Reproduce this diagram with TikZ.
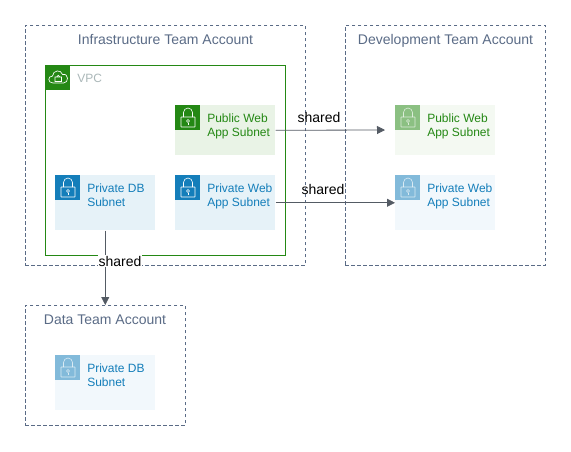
\documentclass[tikz,border=0pt]{standalone}
\usepackage{fontspec}
\setmainfont{Liberation Sans}
\usetikzlibrary{arrows.meta,calc,positioning}
\definecolor{slate}{HTML}{5A6B86}
\definecolor{line}{HTML}{545B64}
\definecolor{vpcgreen}{HTML}{248814}
\definecolor{pubpale}{HTML}{E9F3E6}
\definecolor{pubfaint}{HTML}{F4F9F2}
\definecolor{privblue}{HTML}{147EBA}
\definecolor{privpale}{HTML}{E6F2F8}
\definecolor{privfaint}{HTML}{F2F8FC}
\definecolor{vpcgrey}{HTML}{AAB7B8}
\tikzset{
  account/.style={draw=slate,dash pattern=on 2.5pt off 2pt,line width=0.5pt,minimum width=#1,anchor=north west,inner sep=0pt},
  accttitle/.style={text=slate,text height=8pt,text depth=2pt,font=\fontsize{10.5}{12}\selectfont},
  subnet/.style={anchor=north west,inner sep=0pt,minimum width=75pt},
  subtext/.style={anchor=north west,inner sep=0pt,align=left,font=\fontsize{9}{10.5}\selectfont},
  iconbox/.style={anchor=north west,inner sep=0pt,minimum size=18.75pt},
  sharelbl/.style={text=black,inner sep=0.5pt,font=\fontsize{10.5}{12}\selectfont},
  shareline/.style={draw=line,line width=0.6pt,-{Triangle[length=6pt,width=6pt]}},
  pics/lock/.style={code={
    \draw[white,line width=0.45pt,rounded corners=0.3pt] (-7,0) rectangle (7,10);
    \draw[white,line width=0.45pt] (-4.5,0) -- (-4.5,-4.5) arc[start angle=180,end angle=360,radius=4.5] -- (4.5,0);
    \draw[white,line width=0.45pt] (0,4) circle[radius=1.5];
    \draw[white,line width=0.45pt] (0,5.5) -- (0,8);
  }},
}
\begin{document}
\begin{tikzpicture}[x=0.75pt,y=-0.75pt,>=Stealth]
\useasboundingbox (0,0) rectangle (571,451);
% accounts
\node[account=210pt,minimum height=180pt] (infra) at (25,25) {};
\node[account=150pt,minimum height=180pt] (dev) at (345,25) {};
\node[account=120pt,minimum height=90pt] (data) at (25,305) {};
\node[accttitle] (infratitle) at (165.5,40) {Infrastructure Team Account};
\node[accttitle] (devtitle) at (445.5,40) {Development Team Account};
\node[accttitle] (datatitle) at (105,320) {Data Team Account};
% vpc
\node[draw=vpcgreen,line width=0.6pt,anchor=north west,inner sep=0pt,minimum width=180pt,minimum height=142.5pt] (vpc) at (45,65) {};
\node[iconbox,fill=vpcgreen] (vpcicon) at (45,65) {};
\draw[white,line width=0.5pt] (53,83) .. controls (47.5,83) and (47.5,76) .. (52.5,76) .. controls (53,70) and (61,69) .. (62.5,74.5) .. controls (69,73) and (69,83) .. (63.5,83) -- cycle;
\draw[white,line width=0.4pt] (55,77) rectangle (61.5,81.5) (56.5,77) arc[start angle=180,end angle=360,radius=1.75];
\node[anchor=west,inner sep=0pt,text=vpcgrey,font=\fontsize{9}{11}\selectfont] (vpclbl) at (77,78.5) {VPC};
% subnets in the vpc
\node[subnet,fill=pubpale,minimum height=37.5pt] (pubweb) at (175,105) {};
\node[iconbox,fill=vpcgreen] (pubwebicon) at (175,105) {};
\pic at (188,117) {lock};
\node[subtext,text=vpcgreen] (pubwebtxt) at (207,114) {Public Web\\App Subnet};
\node[subnet,fill=privpale,minimum height=41.25pt] (privweb) at (175,175) {};
\node[iconbox,fill=privblue] (privwebicon) at (175,175) {};
\pic at (188,187) {lock};
\node[subtext,text=privblue] (privwebtxt) at (207,184) {Private Web\\App Subnet};
\node[subnet,fill=privpale,minimum height=41.25pt] (privdb) at (55,175) {};
\node[iconbox,fill=privblue] (privdbicon) at (55,175) {};
\pic at (68,187) {lock};
\node[subtext,text=privblue] (privdbtxt) at (87,184) {Private DB\\Subnet};
% shared copies
\node[subnet,fill=pubfaint,minimum height=37.5pt] (devpub) at (395,105) {};
\node[iconbox,fill=vpcgreen,fill opacity=0.5] (devpubicon) at (395,105) {};
\pic[opacity=0.7] at (408,117) {lock};
\node[subtext,text=vpcgreen] (devpubtxt) at (427,114) {Public Web\\App Subnet};
\node[subnet,fill=privfaint,minimum height=41.25pt] (devpriv) at (395,175) {};
\node[iconbox,fill=privblue,fill opacity=0.5] (devprivicon) at (395,175) {};
\pic[opacity=0.7] at (408,187) {lock};
\node[subtext,text=privblue] (devprivtxt) at (427,184) {Private Web\\App Subnet};
\node[subnet,fill=privfaint,minimum height=41.25pt] (datadb) at (55,355) {};
\node[iconbox,fill=privblue,fill opacity=0.5] (datadbicon) at (55,355) {};
\pic[opacity=0.7] at (68,367) {lock};
\node[subtext,text=privblue] (datadbtxt) at (87,364) {Private DB\\Subnet};
% sharing
\coordinate (pubend) at (385,130);
\draw[shareline] (pubweb.east) -- (pubend);
\draw[shareline] (privweb.east) -- (privweb.east -| devpriv.west);
\draw[shareline] (privdb.south) -- (data.north -| privdb.south);
\node[sharelbl] (publbl) at (319,117) {shared};
\node[sharelbl] (privlbl) at (323,189) {shared};
\node[sharelbl,fill=white] (dblbl) at (120,261) {shared};
\end{tikzpicture}
\end{document}
